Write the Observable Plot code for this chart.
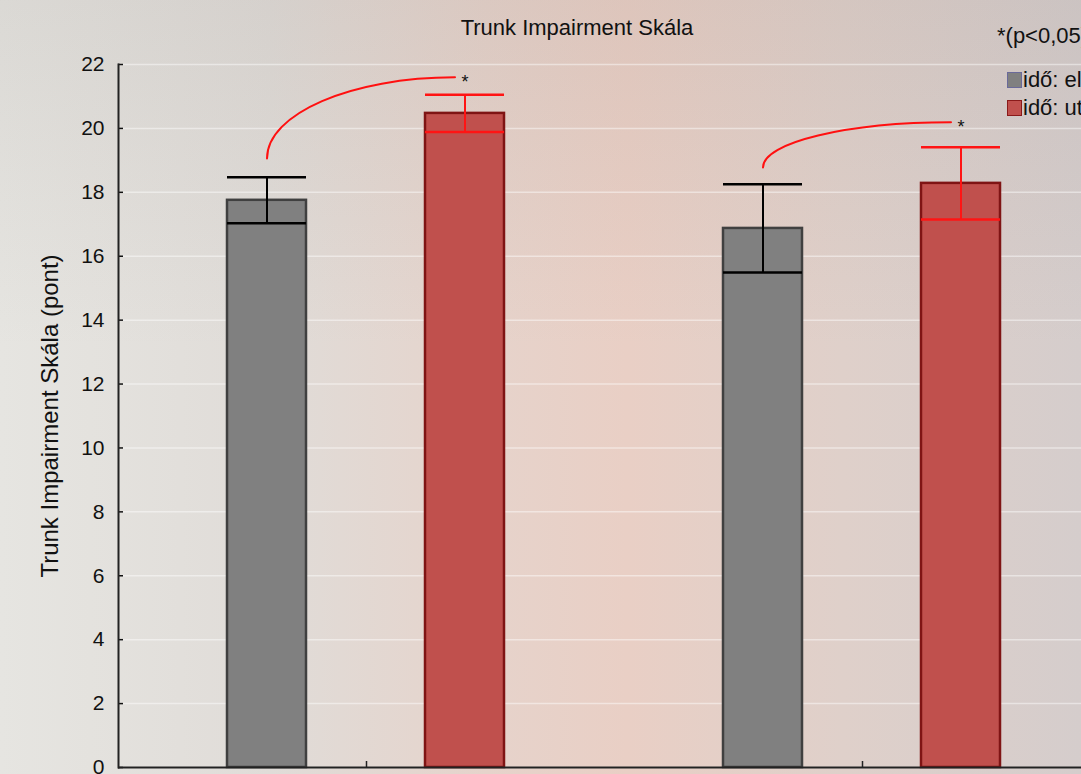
<!DOCTYPE html>
<html>
<head>
<meta charset="utf-8">
<script src="https://cdn.jsdelivr.net/npm/d3@7"></script>
<script src="https://cdn.jsdelivr.net/npm/@observablehq/plot@0.6"></script>
<style>
  html, body { margin: 0; padding: 0; width: 1081px; height: 774px; overflow: hidden; }
  body {
    position: relative;
    font-family: "Liberation Sans", Arial, sans-serif;
    background:
      linear-gradient(to bottom, rgba(120,110,105,0.10) 0%, rgba(120,110,105,0.0) 45%),
      linear-gradient(to right, #e6e5e1 0%, #e0dcd8 25%, #e6d3cb 45%, #e9cfc5 58%, #dfd0ca 78%, #d5cdcc 100%);
  }
  #chart { position: absolute; left: 0; top: 0; width: 1130px; }
  #chart svg { max-width: none !important; width: 1130px; height: 774px; }
  #chart svg g[aria-label*="y-axis tick label"],
  #chart svg g[aria-label*="y-axis tick label"] text { font-size: 21px !important; }
  #chart svg g[aria-label="y-axis label"] text { font-size: 24px; }
  #title { position: absolute; top: 15px; left: 327px; width: 500px; text-align: center; font-size: 22px; color: #111; }
  #note { position: absolute; top: 23px; left: 997px; font-size: 22px; color: #111; white-space: nowrap; }
  .leg { position: absolute; left: 1007px; font-size: 22px; color: #111; white-space: nowrap; display: flex; align-items: center; }
  .sw { width: 13px; height: 14px; border: 1.5px solid; margin-right: 1px; box-sizing: content-box; }
</style>
</head>
<body>
<div id="chart"></div>
<div id="title">Trunk Impairment Skála</div>
<div id="note">*(p&lt;0,05)</div>
<div class="leg" style="top:67px"><span class="sw" style="background:#808080;border-color:#6a6a9a"></span>idő: előtte</div>
<div class="leg" style="top:95px"><span class="sw" style="background:#c0504d;border-color:#8a1a1a"></span>idő: utána</div>
<script>
// ---- data ----
const groups = ["A", "B"];
const times = ["előtte", "utána"];
const means = [17.75, 20.47, 16.87, 18.28];     // A-előtte, A-utána, B-előtte, B-utána
const errors = [0.72, 0.58, 1.38, 1.13];
const yTicks = [0, 2, 4, 6, 8, 10, 12, 14, 16, 18, 20, 22];
const arcStart = [19.06, 18.78];   // significance arc start (above előtte bar)
const arcEnd = [21.6, 20.19];      // significance arc end (near utána bar)

const fills = {"előtte": "#808080", "utána": "#c0504d"};
const strokes = {"előtte": "#404040", "utána": "#7f1414"};
const errColors = {"előtte": "#000000", "utána": "#ff1414"};

const rows = [];
groups.forEach((g, gi) => times.forEach((t, ti) => {
  const i = gi * 2 + ti;
  rows.push({g, t, m: means[i], lo: means[i] - errors[i], hi: means[i] + errors[i]});
}));
const arcRows = [];
groups.forEach((g, gi) => {
  arcRows.push({g, t: times[0], v: arcStart[gi], id: gi});
  arcRows.push({g, t: times[1], v: arcEnd[gi], id: gi});
});
const starRows = groups.map((g, gi) => ({g, t: times[1], v: arcEnd[gi]}));

// quarter-ellipse curve: starts vertical, ends horizontal (stops a little short of the star)
function quarterEllipse(context) {
  let pts = [];
  return {
    areaStart() {}, areaEnd() {},
    lineStart() { pts = []; },
    lineEnd() {
      if (pts.length < 2) return;
      const [x0, y0] = pts[0];
      let [x1, y1] = pts[pts.length - 1];
      x1 = x1 - 10;
      const k = 0.5523;
      context.moveTo(x0, y0);
      context.bezierCurveTo(x0, y0 + k * (y1 - y0), x1 - k * (x1 - x0), y1, x1, y1);
    },
    point(x, y) { pts.push([+x, +y]); }
  };
}

const plot = Plot.plot({
  width: 1130,
  height: 774,
  marginLeft: 118,
  marginRight: 20,
  marginTop: 64,
  marginBottom: 7,
  style: {background: "transparent", fontFamily: "Liberation Sans, Arial, sans-serif", color: "#111", maxWidth: "none"},
  fx: {domain: groups, padding: 0, label: null},
  x: {domain: times, paddingInner: 0.6, paddingOuter: 0.55, axis: null},
  y: {domain: [0, 22], label: null},
  marks: [
    Plot.gridY(yTicks, {stroke: "#ffffff", strokeOpacity: 0.45, strokeWidth: 1.5}),
    Plot.axisY(yTicks, {tickSize: 0, tickPadding: 14, fontSize: 21, label: "Trunk Impairment Skála (pont)", labelAnchor: "center", labelOffset: 78, labelArrow: "none"}),
    Plot.ruleY(yTicks.map(v => ({v, g: groups[0]})), {fx: "g", y: "v", insetRight: 491, stroke: "#111", strokeWidth: 1.5}),
    Plot.barY(rows, {fx: "g", x: "t", y: "m", fill: d => fills[d.t], stroke: d => strokes[d.t], strokeWidth: 2.5}),
    Plot.ruleX(rows, {fx: "g", x: "t", y1: "lo", y2: "hi", stroke: d => errColors[d.t], strokeWidth: 2}),
    Plot.tickY(rows, {fx: "g", x: "t", y: "lo", stroke: d => errColors[d.t], strokeWidth: 2.5}),
    Plot.tickY(rows, {fx: "g", x: "t", y: "hi", stroke: d => errColors[d.t], strokeWidth: 2.5}),
    Plot.line(arcRows, {fx: "g", x: "t", y: "v", z: "id", stroke: "#ff1010", strokeWidth: 2, curve: quarterEllipse}),
    Plot.text(starRows, {fx: "g", x: "t", y: "v", text: () => "*", fontSize: 18, dy: 5, fill: "#111"}),
    Plot.ruleY([0], {stroke: "#222", strokeWidth: 2}),
    Plot.frame({anchor: "left", facetAnchor: "left", stroke: "#222", strokeWidth: 2}),
    Plot.axisFx({anchor: "bottom", tickSize: 6, dy: -6, tickFormat: () => "", label: null, stroke: "#222", strokeWidth: 1.5})
  ]
});
document.getElementById("chart").appendChild(plot);
</script>
</body>
</html>
